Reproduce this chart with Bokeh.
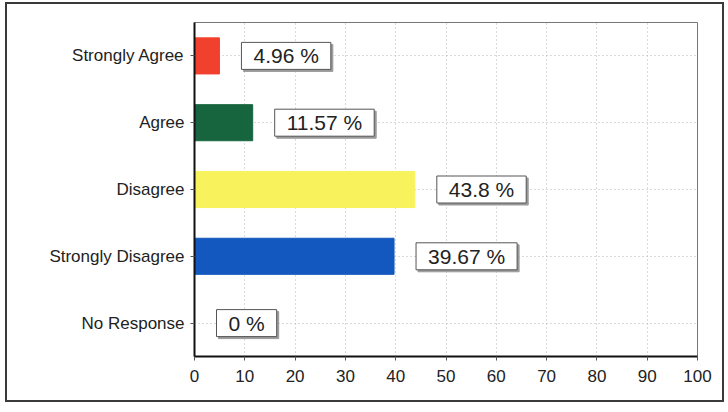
from bokeh.plotting import figure
from bokeh.models import ColumnDataSource, FixedTicker
from bokeh.embed import file_html
from bokeh.resources import INLINE
from bokeh.core.properties import value

categories = ["No Response", "Strongly Disagree", "Disagree", "Agree", "Strongly Agree"]
percentages = [0.0, 39.67, 43.8, 11.57, 4.96]
labels = ["0 %", "39.67 %", "43.8 %", "11.57 %", "4.96 %"]
colors = ["#ffffff", "#1358bf", "#f8f35c", "#17653f", "#f2402e"]
x_ticks = [0, 10, 20, 30, 40, 50, 60, 70, 80, 90, 100]

src = ColumnDataSource(dict(cat=categories, pct=percentages, lbl=labels, col=colors))

FONT = "Liberation Sans"

p = figure(y_range=categories, x_range=(0, 100), width=719, height=400,
           output_backend="svg", toolbar_location=None,
           min_border_left=187, min_border_right=29, min_border_top=18, min_border_bottom=48)
p.styles = {"border": "2px solid #3a3a3a", "margin-left": "5px", "margin-top": "2px"}

p.hbar(y="cat", right="pct", left=0, height=0.54, fill_color="col",
       line_color="col", source=src)

# shadow behind label boxes
p.text(x="pct", y="cat", text="lbl", x_offset=24, y_offset=2, source=src,
       text_font=value(FONT), text_font_size="21px", text_color="#9a9a9a",
       text_align="left", text_baseline="middle",
       background_fill_color="#9a9a9a", border_line_color="#9a9a9a",
       padding=dict(left=12, right=12, top=2, bottom=2))
p.text(x="pct", y="cat", text="lbl", x_offset=22, y_offset=0, source=src,
       text_font=value(FONT), text_font_size="21px", text_color="#222222",
       text_align="left", text_baseline="middle",
       background_fill_color="#ffffff", border_line_color="#555555",
       border_line_width=1,
       padding=dict(left=12, right=12, top=2, bottom=2))

p.xaxis.ticker = FixedTicker(ticks=x_ticks)
for ax in (p.xaxis[0], p.yaxis[0]):
    ax.axis_line_color = "#111111"
    ax.axis_line_width = 2
    ax.major_tick_line_color = "#555555"
    ax.major_tick_in = 0
    ax.major_tick_out = 4
    ax.minor_tick_line_color = None
    ax.major_label_text_font = FONT
    ax.major_label_text_font_size = "17px"
    ax.major_label_text_color = "#222222"
p.xaxis.major_label_standoff = 9
p.yaxis.major_label_standoff = 6

p.xgrid.grid_line_color = "#b5b5b5"
p.xgrid.grid_line_dash = "1 3"
p.ygrid.grid_line_color = "#b5b5b5"
p.ygrid.grid_line_dash = "1 3"

p.outline_line_color = "#777777"
p.outline_line_width = 1
p.background_fill_color = "#ffffff"
p.border_fill_color = "#ffffff"

open("out.html", "w").write(file_html(p, INLINE))
